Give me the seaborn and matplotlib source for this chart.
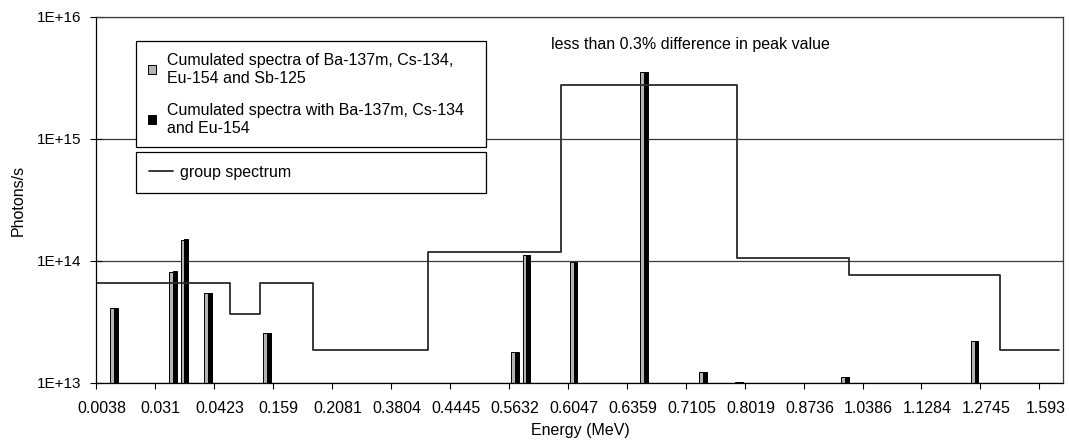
import numpy as np
import pandas as pd
import matplotlib
matplotlib.use("Agg")
import matplotlib.pyplot as plt
from matplotlib.patches import Patch
from matplotlib.lines import Line2D
from matplotlib.ticker import FixedLocator, NullLocator
import seaborn as sns

# ---------------- data ----------------
# energy-bin index (category position on the x axis) of each line pair
bar_bins = [1, 6, 7, 9, 14, 35, 36, 40, 46, 51, 54, 63, 74]
with_sb125 = [4.1e13, 8.1e13, 1.5e14, 5.5e13, 2.57e13, 1.8e13, 1.12e14,
              9.8e13, 3.54e15, 1.23e13, 1.02e13, 1.12e13, 2.2e13]
without_sb125 = [4.1e13, 8.3e13, 1.52e14, 5.5e13, 2.57e13, 1.8e13, 1.12e14,
                 9.9e13, 3.55e15, 1.23e13, 1.02e13, 1.12e13, 2.2e13]

# group spectrum (step edges in bin units, levels)
group_edges = [0, 11.33, 13.87, 18.44, 28.16, 39.41, 54.38, 63.85, 76.62, 81.7]
group_levels = [6.6e13, 3.7e13, 6.6e13, 1.86e13, 1.19e14, 2.77e15, 1.06e14,
                7.7e13, 1.86e13, 1.86e13]

n_bins = 82
label_every = 5
tick_labels = ["0.0038", "0.031", "0.0423", "0.159", "0.2081", "0.3804",
               "0.4445", "0.5632", "0.6047", "0.6359", "0.7105", "0.8019",
               "0.8736", "1.0386", "1.1284", "1.2745", "1.593"]

s1 = "Cumulated spectra of Ba-137m, Cs-134,\nEu-154 and Sb-125"
s2 = "Cumulated spectra with Ba-137m, Cs-134\nand Eu-154"
s3 = "group spectrum"

# ---------------- style ----------------
sns.set_style("white")
plt.rcParams["font.family"] = ["Liberation Sans", "DejaVu Sans"]
plt.rcParams["text.color"] = "black"
plt.rcParams["xtick.color"] = "black"
plt.rcParams["ytick.color"] = "black"

grey = "#b4b4b4"
fig = plt.figure(figsize=(10.69, 4.41), dpi=100)
W, H = 1069, 441
ax = fig.add_axes([96 / W, 1 - 383 / H, 967 / W, 366 / H])

df = pd.DataFrame({
    "pos": list(np.array(bar_bins) + 0.5) * 2,
    "value": with_sb125 + without_sb125,
    "series": [s1] * len(bar_bins) + [s2] * len(bar_bins),
})

sns.barplot(data=df, x="pos", y="value", hue="series", native_scale=True,
            palette={s1: grey, s2: "black"}, width=0.66, edgecolor="black",
            linewidth=0.7, errorbar=None, legend=False, ax=ax)
ax.set_yscale("log")

sns.lineplot(x=group_edges, y=group_levels, drawstyle="steps-post",
             estimator=None, sort=False, color="#2a2a2a", linewidth=1.3,
             legend=False, ax=ax)

ax.set_xlim(0, n_bins)
ax.set_ylim(1e13, 1e16)

# y axis
ax.yaxis.set_major_locator(FixedLocator([1e13, 1e14, 1e15, 1e16]))
ax.yaxis.set_minor_locator(NullLocator())
ax.set_yticklabels(["1E+13", "1E+14", "1E+15", "1E+16"])
ax.tick_params(axis="y", which="major", direction="inout", length=9,
               width=0.8, pad=6, labelsize=11, left=True)
ax.yaxis.grid(True, color="#3a3a3a", linewidth=0.9)
ax.xaxis.grid(False)

# x axis: ticks at bin boundaries, labels centred on bins
major_pos = np.arange(0, n_bins, label_every)
ax.xaxis.set_major_locator(FixedLocator(major_pos))
ax.set_xticklabels([""] * len(major_pos))
ax.xaxis.set_minor_locator(FixedLocator(major_pos + 0.5))
ax.set_xticklabels(tick_labels, minor=True)
ax.tick_params(axis="x", which="major", direction="out", length=4,
               width=0.8, bottom=True)
ax.tick_params(axis="x", which="minor", length=0, pad=13, labelsize=11.5,
               bottom=True)
ax.set_xlabel("")
ax.set_ylabel("")

for sp in ax.spines.values():
    sp.set_visible(True)
    sp.set_color("#3a3a3a")
    sp.set_linewidth(0.9)
ax.spines["left"].set_color("black")
ax.spines["bottom"].set_color("black")

fig.text(18 / W, 1 - 200 / H, "Photons/s", rotation=90, ha="center",
         va="center", fontsize=11.5)
fig.text(580 / W, 1 - 430 / H, "Energy (MeV)", ha="center", va="center",
         fontsize=11.5)

ax.text(0.4705, 0.9235, "less than 0.3% difference in peak value",
        transform=ax.transAxes, ha="left", va="center", fontsize=11.5)

# legends
h1 = [Patch(facecolor=grey, edgecolor="black", linewidth=0.7),
      Patch(facecolor="black", edgecolor="black", linewidth=0.7)]
leg1 = ax.legend(handles=h1, labels=[s1, s2], loc="upper left",
                 bbox_to_anchor=(0.0414, 0.934, 0.362, 0), mode="expand",
                 frameon=True, fancybox=False, edgecolor="black",
                 framealpha=1, borderaxespad=0, handlelength=0.5,
                 handleheight=0.5, handletextpad=0.7, labelspacing=1.1,
                 borderpad=0.75, fontsize=11.5)
leg1.get_frame().set_linewidth(0.9)
ax.add_artist(leg1)

h2 = [Line2D([0], [0], color="#2a2a2a", linewidth=1.3)]
leg2 = ax.legend(handles=h2, labels=[s3], loc="upper left",
                 bbox_to_anchor=(0.0414, 0.631, 0.362, 0), mode="expand",
                 frameon=True, fancybox=False, edgecolor="black",
                 framealpha=1, borderaxespad=0, handlelength=1.5,
                 handletextpad=0.45, borderpad=0.8, fontsize=11.5)
leg2.get_frame().set_linewidth(0.9)

fig.savefig("out.png", dpi=100)
